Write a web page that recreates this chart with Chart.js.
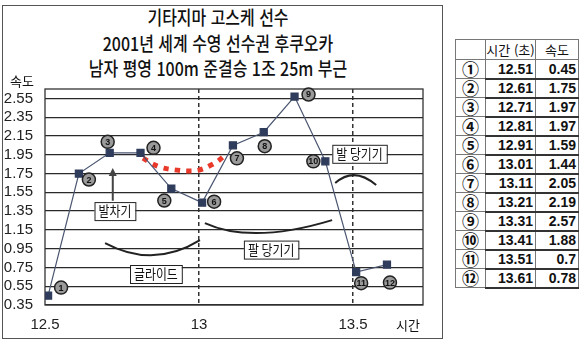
<!DOCTYPE html>
<html lang="ko">
<head>
<meta charset="utf-8">
<script src="https://cdn.jsdelivr.net/npm/chart.js@4"></script>
<style>
  body { margin: 0; background: #fff; width: 588px; height: 342px; overflow: hidden; position: relative;
         font-family: "Noto Sans CJK KR", sans-serif; color: #111; }
  #frame { position: absolute; left: 2px; top: 5px; width: 439px; height: 332px; border: 1px solid #555; }
  #chart { position: absolute; left: 0; top: 0; }
  .title { position: absolute; left: -2px; width: 440px; text-align: center; font-size: 19px; line-height: 24px;
           transform: scaleX(0.84); transform-origin: 220px 0; white-space: nowrap; font-weight: 500; }
  table { position: absolute; left: 455px; top: 39px; border-collapse: collapse; table-layout: fixed; }
  td, th { border: 1px solid #777; padding: 0; font-weight: normal; line-height: 14px; }
  thead tr { height: 20px; }
  tbody tr { height: 19px; }
  th { font-size: 13px; }
  td.no { font-size: 17px; text-align: center; font-weight: bold; }
  td.num { font-family: "Liberation Sans Narrow", "Liberation Sans", sans-serif; font-weight: bold; font-size: 14px;
           text-align: right; padding-right: 2px; border-bottom: 2px solid #333; }
</style>
</head>
<body>
<div id="frame"></div>
<div class="title" style="top:5px">기타지마 고스케 선수</div>
<div class="title" style="top:31px">2001년 세계 수영 선수권 후쿠오카</div>
<div class="title" style="top:56px">남자 평영 100m 준결승 1조 25m 부근</div>
<canvas id="chart" width="444" height="342"></canvas>
<table id="tbl">
  <colgroup><col style="width:30px"><col style="width:50px"><col style="width:43px"></colgroup>
  <thead><tr><th></th><th>시간 (초)</th><th>속도</th></tr></thead>
  <tbody></tbody>
</table>
<script>
// 데이터
const times = [12.51, 12.61, 12.71, 12.81, 12.91, 13.01, 13.11, 13.21, 13.31, 13.41, 13.51, 13.61];
const speeds = [0.45, 1.75, 1.97, 1.97, 1.59, 1.44, 2.05, 2.19, 2.57, 1.88, 0.7, 0.78];
const marks = ['①', '②', '③', '④', '⑤', '⑥', '⑦', '⑧', '⑨', '⑩', '⑪', '⑫'];
const yTicks = [0.35, 0.55, 0.75, 0.95, 1.15, 1.35, 1.55, 1.75, 1.95, 2.15, 2.35, 2.55];
const xTicks = [12.5, 13, 13.5];
const xName = '시간';
const yName = '속도';

// 빨간 점선 (발차기 구간 곡선)
const curveTimes = [12.818, 12.851, 12.886, 12.929, 12.964, 13.0, 13.039, 13.068, 13.091];
const curveSpeeds = [1.914, 1.85, 1.807, 1.786, 1.776, 1.786, 1.84, 1.90, 1.967];

// 설명 상자와 괄호 (데이터 좌표)
const notes = [
  { text: '발차기', x: 12.727, y: 1.35 },
  { text: '글라이드', x: 12.86, y: 0.68 },
  { text: '팔 당기기', x: 13.234, y: 0.94 },
  { text: '발 당기기', x: 13.521, y: 1.96 }
];
const brackets = [
  [[12.695, 1.01], [12.851, 0.88], [13.003, 1.04]],
  [[13.019, 1.222], [13.198, 1.116], [13.432, 1.254]],
  [[13.442, 1.648], [13.506, 1.733], [13.575, 1.627]]
];
const arrowLine = [[12.72, 1.46], [12.72, 1.81]];

// 번호 표시 위치 (점 기준 픽셀 이동)
const markOffsets = [[13, -8], [10, 6], [-2, -11], [13, -5], [-7, 12], [12, -1],
                     [4, 13], [1, 14], [14, -2], [-12, 0], [5, 11], [3, 18]];

// 표 채우기
const tbody = document.querySelector('#tbl tbody');
times.forEach((t, i) => {
  const tr = document.createElement('tr');
  tr.innerHTML = `<td class="no">${marks[i]}</td><td class="num">${t.toFixed(2)}</td><td class="num">${speeds[i]}</td>`;
  tbody.appendChild(tr);
});

const tickFont = { family: "'Liberation Sans Narrow', 'Liberation Sans', sans-serif", size: 15 };

const notesPlugin = {
  id: 'notes',
  beforeDatasetsDraw(chart) {
    const { ctx, chartArea: a } = chart;
    ctx.save();
    ctx.strokeStyle = '#333';
    ctx.lineWidth = 1.3;
    ctx.strokeRect(a.left, a.top, a.right - a.left, a.bottom - a.top);
    ctx.restore();
  },
  afterDatasetsDraw(chart) {
    const { ctx, chartArea: a } = chart;
    const xs = chart.scales.x, ys = chart.scales.y;
    const px = v => xs.getPixelForValue(v), py = v => ys.getPixelForValue(v);
    ctx.save();

    // 괄호
    ctx.strokeStyle = '#222';
    ctx.lineWidth = 2;
    brackets.forEach(b => {
      const s = [px(b[0][0]), py(b[0][1])], m = [px(b[1][0]), py(b[1][1])], e = [px(b[2][0]), py(b[2][1])];
      const c = [2 * m[0] - (s[0] + e[0]) / 2, 2 * m[1] - (s[1] + e[1]) / 2];
      ctx.beginPath();
      ctx.moveTo(s[0], s[1]);
      ctx.quadraticCurveTo(c[0], c[1], e[0], e[1]);
      ctx.stroke();
    });

    // 화살표
    const ax = px(arrowLine[0][0]), ay0 = py(arrowLine[0][1]), ay1 = py(arrowLine[1][1]);
    ctx.strokeStyle = '#444';
    ctx.fillStyle = '#444';
    ctx.lineWidth = 2;
    ctx.beginPath(); ctx.moveTo(ax, ay0); ctx.lineTo(ax, ay1 + 6); ctx.stroke();
    ctx.beginPath(); ctx.moveTo(ax, ay1); ctx.lineTo(ax - 4, ay1 + 8); ctx.lineTo(ax + 4, ay1 + 8); ctx.closePath(); ctx.fill();

    // 설명 상자
    ctx.font = "14px 'Noto Sans CJK KR'";
    ctx.textBaseline = 'middle';
    ctx.textAlign = 'center';
    notes.forEach(n => {
      const cx = px(n.x), cy = py(n.y);
      const w = ctx.measureText(n.text).width * 0.85 + 8, h = 18;
      ctx.fillStyle = '#fff';
      ctx.fillRect(cx - w / 2, cy - h / 2, w, h);
      ctx.strokeStyle = '#222';
      ctx.lineWidth = 1;
      ctx.strokeRect(cx - w / 2 + 0.5, cy - h / 2 + 0.5, w, h);
      ctx.save();
      ctx.translate(cx, cy);
      ctx.scale(0.85, 1);
      ctx.fillStyle = '#111';
      ctx.fillText(n.text, 0, 0);
      ctx.restore();
    });

    // 점 번호
    const meta = chart.getDatasetMeta(0);
    meta.data.forEach((pt, i) => {
      const x = pt.x + markOffsets[i][0], y = pt.y + markOffsets[i][1];
      ctx.beginPath();
      ctx.arc(x, y, 6.5, 0, Math.PI * 2);
      ctx.fillStyle = '#9a9a9a';
      ctx.fill();
      ctx.strokeStyle = '#222';
      ctx.lineWidth = 1.5;
      ctx.stroke();
      ctx.fillStyle = '#111';
      ctx.font = "bold 9px 'Liberation Sans'";
      ctx.fillText(String(i + 1), x, y + 0.5);
    });

    // 축 이름
    ctx.fillStyle = '#111';
    ctx.font = "13px 'Noto Sans CJK KR'";
    ctx.textAlign = 'center';
    ctx.fillText(yName, a.left - 23, a.top - 8);
    ctx.fillText(xName, a.right - 15, a.bottom + 20);
    ctx.restore();
  }
};

new Chart(document.getElementById('chart'), {
  type: 'line',
  data: {
    datasets: [{
      data: times.map((t, i) => ({ x: t, y: speeds[i] })),
      borderColor: '#4a5570',
      borderWidth: 1.2,
      pointStyle: 'rect',
      pointRadius: 5,
      pointBackgroundColor: '#2f3c5c',
      pointBorderColor: '#2f3c5c',
      tension: 0
    }, {
      data: curveTimes.map((t, i) => ({ x: t, y: curveSpeeds[i] })),
      borderColor: '#e8392b',
      borderWidth: 5,
      borderDash: [5, 6.5],
      borderCapStyle: 'butt',
      pointRadius: 0,
      tension: 0.4
    }]
  },
  options: {
    responsive: false,
    animation: false,
    layout: { padding: { top: 89, right: 21, left: 0, bottom: 0 } },
    plugins: { legend: { display: false }, tooltip: { enabled: false }, title: { display: false } },
    scales: {
      x: {
        type: 'linear',
        min: 12.5,
        max: 13.727,
        afterBuildTicks: s => { s.ticks = xTicks.map(v => ({ value: v })); },
        afterFit: s => { s.height = 37; },
        ticks: { color: '#222', font: tickFont, padding: 11, maxRotation: 0, autoSkip: false, callback: v => String(v) },
        grid: {
          drawTicks: false,
          lineWidth: 1.5,
          color: c => (c.tick && (c.tick.value === 13 || c.tick.value === 13.5)) ? '#333' : 'rgba(0,0,0,0)'
        },
        border: { display: false, dash: [4, 3] }
      },
      y: {
        min: 0.35,
        max: 2.65,
        afterBuildTicks: s => { s.ticks = yTicks.map(v => ({ value: v })); },
        afterFit: s => { s.width = 45; },
        ticks: { color: '#222', font: tickFont, padding: 12, autoSkip: false, callback: v => v.toFixed(2) },
        grid: { drawTicks: false, color: '#2a2a2a', lineWidth: 1.3 },
        border: { display: false }
      }
    }
  },
  plugins: [notesPlugin]
});
</script>
</body>
</html>
